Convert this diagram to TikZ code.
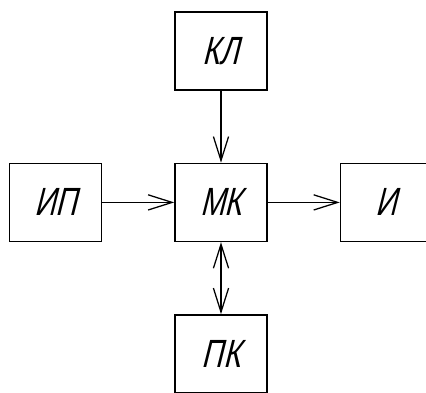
\documentclass[tikz,border=0pt]{standalone}
\usepackage{fontspec}
\newfontfamily\gostfont[FakeSlant=0.25,FakeStretch=0.75]{Liberation Sans}
\usetikzlibrary{arrows.meta,positioning}
\tikzset{
  blk/.style={rectangle, draw, line width=1.1pt, align=center,
              minimum width=23mm, minimum height=19.5mm, inner sep=0pt,
              font=\gostfont\fontsize{28}{30}\selectfont},
  arrow/.style={-{Straight Barb[length=6mm, width=3.8mm]}, line width=0.9pt},
  biarrow/.style={{Straight Barb[length=6mm, width=3.8mm]}-{Straight Barb[length=6mm, width=3.8mm]}, line width=0.9pt}
}
\begin{document}
\begin{tikzpicture}[node distance=18mm and 18mm]
  \useasboundingbox (0,0) rectangle (106.5mm,-98mm);
  \node[blk] (mk) at (55.25mm,-50.6mm) {МК};
  \node[blk, above=of mk] (kl) {КЛ};
  \node[blk, left=of mk] (ip) {ИП};
  \node[blk, right=of mk] (ind) {И};
  \node[blk, below=of mk] (pk) {ПК};
  \draw[arrow] (kl) -- (mk);
  \draw[arrow] (ip) -- (mk);
  \draw[arrow] (mk) -- (ind);
  \draw[biarrow] (mk) -- (pk);
\end{tikzpicture}
\end{document}
